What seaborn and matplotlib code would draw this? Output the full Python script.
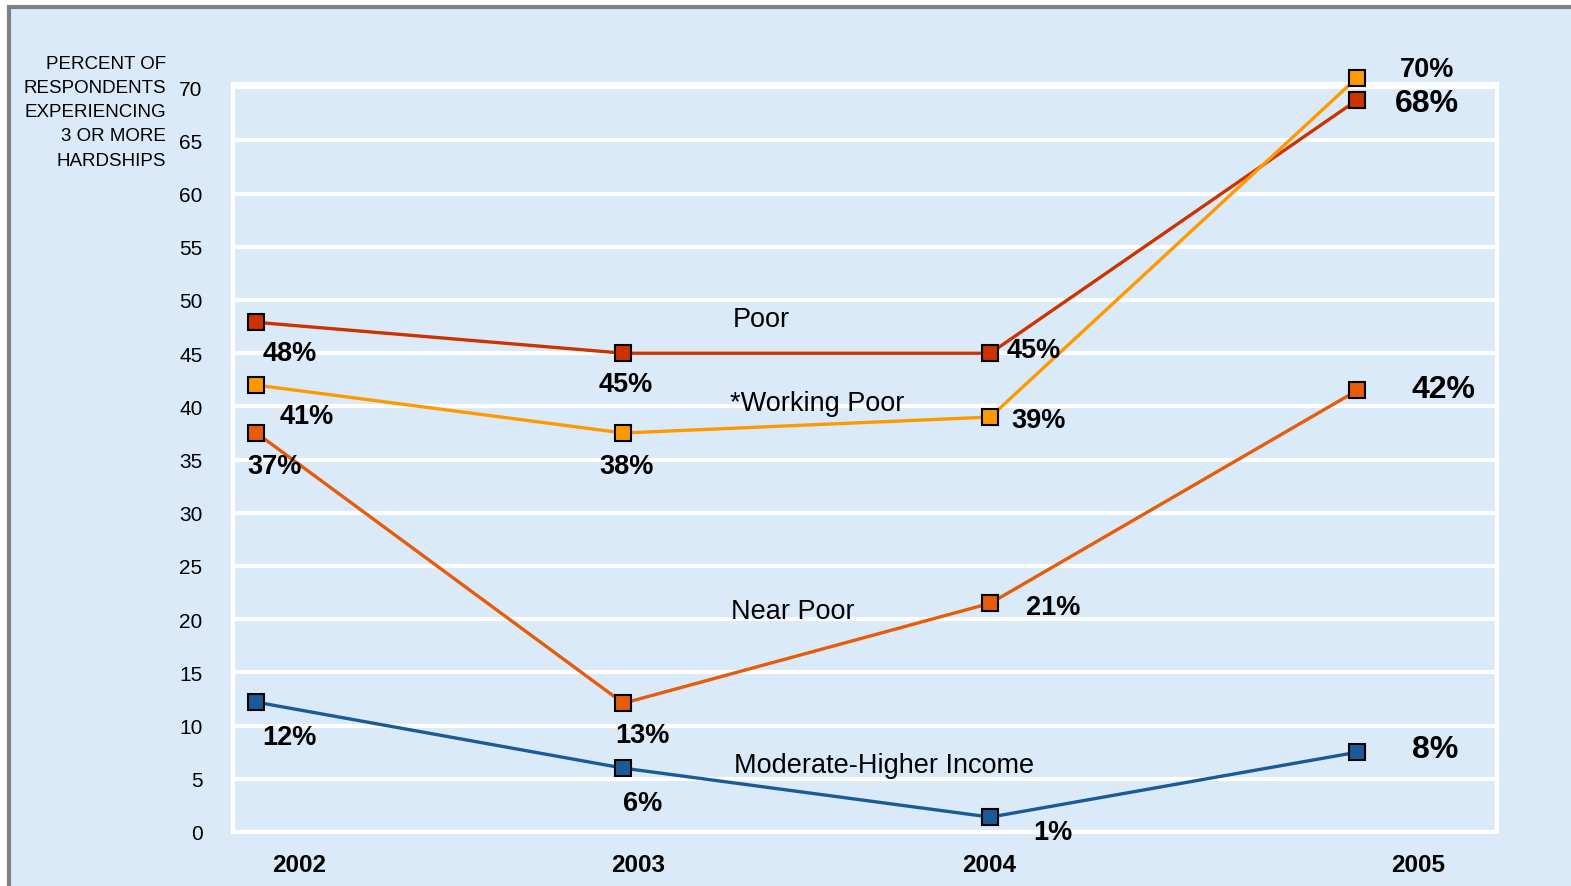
import pandas as pd
import matplotlib.pyplot as plt
import seaborn as sns
from matplotlib.patches import Rectangle

sns.set_style('white')
plt.rcParams['font.family'] = ['Liberation Sans', 'DejaVu Sans']
plt.rcParams['text.color'] = 'black'

# 数据
years = [2002, 2003, 2004, 2005]
groups = ['Poor', '*Working Poor', 'Near Poor', 'Moderate-Higher Income']
poor = [47.9, 45.0, 45.0, 68.8]
working_poor = [42.0, 37.5, 39.0, 70.9]
near_poor = [37.5, 12.1, 21.5, 41.5]
moderate = [12.2, 6.0, 1.4, 7.5]
poor_labels = ['48%', '45%', '45%', '68%']
working_labels = ['41%', '38%', '39%', '70%']
near_labels = ['37%', '13%', '21%', '42%']
moderate_labels = ['12%', '6%', '1%', '8%']

colors = ['#cc3300', '#ff9900', '#e65c0a', '#1a5a96']
bg = '#dbeaf8'

values = [poor, working_poor, near_poor, moderate]
labels = [poor_labels, working_labels, near_labels, moderate_labels]
df = pd.DataFrame({
    'year': years * 4,
    'value': poor + working_poor + near_poor + moderate,
    'group': [g for g in groups for _ in years],
})

fig = plt.figure(figsize=(15.71, 8.87), dpi=100)
fig.patch.set_facecolor('white')
fig.patches.append(Rectangle((9 / 1571, -0.1), 1.2, 1 - 8 / 887 + 0.1, transform=fig.transFigure,
                             facecolor=bg, edgecolor='#808080', linewidth=3, zorder=-1))
ax = fig.add_axes([233 / 1571, 1 - 833 / 887, (1497 - 233) / 1571, (833 - 85) / 887])
ax.set_facecolor(bg)

sns.lineplot(data=df, x='year', y='value', hue='group', palette=colors, marker='s',
             markersize=11, markeredgecolor='black', markeredgewidth=1.5,
             linewidth=2.4, legend=False, ax=ax, zorder=3)
for ln in ax.lines:
    ln.set_clip_on(False)

ax.set_xlim(2001.936, 2005.381)
ax.set_ylim(0, 70.3)
ax.set_yticks(range(0, 75, 5))
ax.set_xticks([2002.116, 2003.040, 2003.997, 2005.166])
ax.set_xticklabels([str(y) for y in years], fontsize=17.5, fontweight='bold')
ax.tick_params(axis='y', labelsize=15, pad=22, length=0, labelcolor='black')
ax.tick_params(axis='x', pad=15, length=0, labelcolor='black')
ax.set_xlabel('')
ax.set_ylabel('')
ax.grid(axis='y', color='white', linewidth=3)
for s in ax.spines.values():
    s.set_color('white')
    s.set_linewidth(3)

# 百分比标注 (偏移, 单位 pt)
offsets = [
    [(24, -22), (2, -22), (31, 2), (50, -2)],
    [(36, -22), (2, -24), (35, -2), (50, 6)],
    [(13, -24), (14, -23), (45, -3), (62, 1)],
    [(24, -25), (14, -25), (45, -11), (56, 2)],
]
sizes = [19.5, 19.5, 19.5, 23]
for i in range(4):
    for j in range(4):
        fs = sizes[j]
        if i == 1 and j == 3:
            fs = 19.5
        ax.annotate(labels[i][j], (years[j], values[i][j]), xytext=offsets[i][j],
                    textcoords='offset points', ha='center', va='center',
                    fontsize=fs, fontweight='bold', color='black', zorder=4,
                    annotation_clip=False)

# 系列名称
name_pos = [(2003.375, 48.2), (2003.528, 40.3), (2003.462, 20.8), (2003.710, 6.3)]
for g, (x, y) in zip(groups, name_pos):
    ax.text(x, y, g, fontsize=19.5, ha='center', va='center', color='black', zorder=4)

fig.text(166 / 1571, 1 - 56 / 887,
         'PERCENT OF\nRESPONDENTS\nEXPERIENCING\n3 OR MORE\nHARDSHIPS',
         ha='right', va='top', fontsize=13.5, linespacing=1.55, color='black')

fig.savefig('out.png', dpi=100, facecolor=fig.get_facecolor())
